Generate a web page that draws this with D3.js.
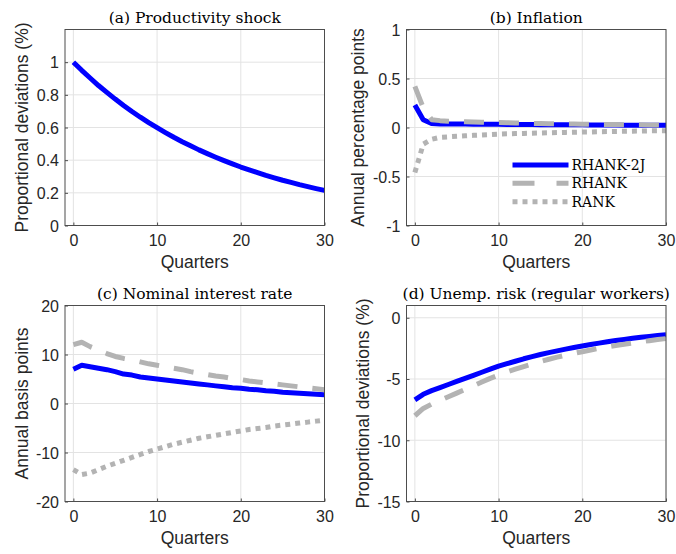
<!DOCTYPE html>
<html>
<head>
<meta charset="utf-8">
<script src="https://cdn.jsdelivr.net/npm/d3@7"></script>
<style>
  html, body { margin: 0; padding: 0; background: #fff; }
  svg { display: block; }
  .tick-label { font-family: "Liberation Sans", Arial, sans-serif; font-size: 16px; fill: #262626; }
  .axis-label { font-family: "Liberation Sans", Arial, sans-serif; font-size: 17.5px; fill: #262626; }
  .title { font-family: "DejaVu Serif", serif; font-size: 15.5px; fill: #000; }
  .legend-text { font-family: "DejaVu Serif", serif; font-size: 14px; fill: #000; }
</style>
</head>
<body>
<svg id="chart" width="676" height="554"></svg>
<script>
// Impulse responses to a productivity shock, quarters 0..30
const quarters = [0,1,2,3,4,5,6,7,8,9,10,11,12,13,14,15,16,17,18,19,20,21,22,23,24,25,26,27,28,29,30];
const xTicks = [0, 10, 20, 30];

// (a) Productivity shock
const productivity = [1.000,0.950,0.903,0.857,0.815,0.774,0.735,0.698,0.663,0.630,0.599,0.569,0.540,0.513,0.488,0.463,0.440,0.418,0.397,0.377,0.358,0.341,0.324,0.307,0.292,0.277,0.264,0.250,0.238,0.226,0.215];

// (b) Inflation, annual percentage points
const inflRHANK2J = [0.23,0.08,0.04,0.035,0.035,0.035,0.035,0.034,0.033,0.032,0.032,0.031,0.031,0.030,0.030,0.029,0.029,0.028,0.028,0.027,0.027,0.026,0.026,0.025,0.025,0.024,0.024,0.023,0.023,0.022,0.022];
const inflRHANK = [0.42,0.20,0.08,0.07,0.065,0.062,0.059,0.056,0.054,0.052,0.050,0.048,0.046,0.044,0.042,0.040,0.039,0.038,0.036,0.035,0.034,0.033,0.032,0.031,0.030,0.029,0.028,0.027,0.026,0.025,0.024];
const inflRANK = [-0.46,-0.17,-0.12,-0.10,-0.095,-0.09,-0.085,-0.08,-0.076,-0.072,-0.068,-0.065,-0.062,-0.060,-0.058,-0.056,-0.054,-0.052,-0.050,-0.048,-0.046,-0.045,-0.043,-0.042,-0.040,-0.039,-0.037,-0.036,-0.034,-0.033,-0.032];

// (c) Nominal interest rate, annual basis points
const rateRHANK2J = [7.0,7.8,7.5,7.2,6.9,6.5,6.0,5.8,5.4,5.2,5.0,4.8,4.6,4.4,4.2,4.0,3.8,3.6,3.4,3.2,3.1,2.9,2.8,2.6,2.5,2.3,2.2,2.1,2.0,1.9,1.8];
const rateRHANK = [12.0,12.5,11.6,10.9,10.2,9.6,9.2,8.9,8.5,8.1,7.8,7.5,7.2,6.9,6.5,6.2,5.9,5.6,5.4,5.1,4.9,4.6,4.4,4.2,4.0,3.8,3.6,3.4,3.2,3.0,2.8];
const rateRANK = [-13.5,-14.5,-14.2,-13.5,-12.8,-12.2,-11.6,-11.0,-10.4,-9.8,-9.3,-8.8,-8.3,-7.9,-7.5,-7.1,-6.8,-6.5,-6.2,-5.9,-5.6,-5.3,-5.1,-4.9,-4.6,-4.4,-4.2,-4.0,-3.8,-3.6,-3.4];

// (d) Unemployment risk of regular workers, proportional deviations (%)
const unempRHANK2J = [-6.7,-6.25,-5.95,-5.7,-5.45,-5.2,-4.95,-4.7,-4.45,-4.2,-3.95,-3.75,-3.55,-3.35,-3.17,-3.0,-2.85,-2.7,-2.56,-2.43,-2.3,-2.18,-2.07,-1.96,-1.86,-1.77,-1.68,-1.6,-1.52,-1.45,-1.38];
const unempRHANK = [-8.0,-7.4,-7.05,-6.75,-6.45,-6.15,-5.85,-5.55,-5.25,-4.95,-4.68,-4.43,-4.2,-3.98,-3.77,-3.57,-3.39,-3.22,-3.06,-2.91,-2.77,-2.63,-2.5,-2.38,-2.27,-2.16,-2.06,-1.96,-1.87,-1.78,-1.7];

const modelNames = ["RHANK-2J", "RHANK", "RANK"];

// Line styles per model
const styles = {
  "RHANK-2J": { color: "#0000ff", width: 5, dash: null },
  "RHANK":    { color: "#b3b3b3", width: 5, dash: "20,15" },
  "RANK":     { color: "#b3b3b3", width: 5, dash: "5,5" }
};

const panels = [
  { title: "(a) Productivity shock", ylabel: "Proportional deviations (%)",
    left: 65, right: 324.5, top: 29.5, bottom: 225.5, ylabX: 27.5,
    yDomain: [0, 1.2], yTicks: [0, 0.2, 0.4, 0.6, 0.8, 1],
    series: [{ name: "RHANK-2J", values: productivity }] },
  { title: "(b) Inflation", ylabel: "Annual percentage points",
    left: 406.5, right: 666, top: 29.5, bottom: 225.5, ylabX: 363.5,
    yDomain: [-1, 1], yTicks: [-1, -0.5, 0, 0.5, 1], legend: true,
    series: [{ name: "RHANK-2J", values: inflRHANK2J },
             { name: "RHANK", values: inflRHANK },
             { name: "RANK", values: inflRANK }] },
  { title: "(c) Nominal interest rate", ylabel: "Annual basis points",
    left: 65, right: 324.5, top: 305.5, bottom: 501.5, ylabX: 27.5,
    yDomain: [-20, 20], yTicks: [-20, -10, 0, 10, 20],
    series: [{ name: "RHANK-2J", values: rateRHANK2J },
             { name: "RHANK", values: rateRHANK },
             { name: "RANK", values: rateRANK }] },
  { title: "(d) Unemp. risk (regular workers)", ylabel: "Proportional deviations (%)",
    left: 406.5, right: 666, top: 305.5, bottom: 501.5, ylabX: 368.5,
    yDomain: [-15, 1], yTicks: [-15, -10, -5, 0],
    series: [{ name: "RHANK-2J", values: unempRHANK2J },
             { name: "RHANK", values: unempRHANK }] }
];

const svg = d3.select("#chart");
const fmt = v => String(v);

panels.forEach((p, i) => {
  const x = d3.scaleLinear().domain([-1, 30]).range([p.left, p.right]);
  const y = d3.scaleLinear().domain(p.yDomain).range([p.bottom, p.top]);
  const g = svg.append("g");

  // grid
  g.selectAll(".gx").data(xTicks).enter().append("line")
    .attr("x1", d => x(d)).attr("x2", d => x(d))
    .attr("y1", p.top).attr("y2", p.bottom)
    .attr("stroke", "#e3e3e3").attr("stroke-width", 1);
  g.selectAll(".gy").data(p.yTicks).enter().append("line")
    .attr("x1", p.left).attr("x2", p.right)
    .attr("y1", d => y(d)).attr("y2", d => y(d))
    .attr("stroke", "#e3e3e3").attr("stroke-width", 1);

  // series
  const clipId = "clip" + i;
  g.append("clipPath").attr("id", clipId).append("rect")
    .attr("x", p.left).attr("y", p.top)
    .attr("width", p.right - p.left).attr("height", p.bottom - p.top);
  const line = d3.line().x((d, k) => x(quarters[k])).y(d => y(d));
  p.series.forEach(s => {
    const st = styles[s.name];
    g.append("path")
      .attr("clip-path", `url(#${clipId})`)
      .attr("d", line(s.values))
      .attr("fill", "none")
      .attr("stroke", st.color)
      .attr("stroke-width", st.width)
      .attr("stroke-linejoin", "round")
      .attr("stroke-dasharray", st.dash);
  });

  // axes box
  g.append("rect")
    .attr("x", p.left).attr("y", p.top)
    .attr("width", p.right - p.left).attr("height", p.bottom - p.top)
    .attr("fill", "none").attr("stroke", "#4d4d4d").attr("stroke-width", 1);

  // x axis (ticks inward)
  const xAxis = d3.axisBottom(x).tickValues(xTicks).tickSizeInner(-3).tickSizeOuter(0).tickPadding(10).tickFormat(fmt);
  const gx = g.append("g").attr("transform", `translate(0,${p.bottom})`).call(xAxis);
  gx.select(".domain").remove();
  gx.selectAll(".tick line").attr("stroke", "#4d4d4d");
  gx.selectAll(".tick text").attr("class", "tick-label").attr("font-size", null).attr("font-family", null)
    .attr("dy", "0.72em").attr("y", 9);

  // y axis
  const yAxis = d3.axisLeft(y).tickValues(p.yTicks).tickSizeInner(-3).tickSizeOuter(0).tickPadding(8).tickFormat(fmt);
  const gy = g.append("g").attr("transform", `translate(${p.left},0)`).call(yAxis);
  gy.select(".domain").remove();
  gy.selectAll(".tick line").attr("stroke", "#4d4d4d");
  gy.selectAll(".tick text").attr("class", "tick-label").attr("font-size", null).attr("font-family", null)
    .attr("x", -6).attr("dy", "0.36em");

  // title
  g.append("text").attr("class", "title")
    .attr("x", (p.left + p.right) / 2).attr("y", p.top - 7)
    .attr("text-anchor", "middle").text(p.title);

  // axis labels
  g.append("text").attr("class", "axis-label")
    .attr("x", (p.left + p.right) / 2).attr("y", p.bottom + 42)
    .attr("text-anchor", "middle").text("Quarters");
  g.append("text").attr("class", "axis-label")
    .attr("transform", `translate(${p.ylabX},${(p.top + p.bottom) / 2}) rotate(-90)`)
    .attr("text-anchor", "middle").text(p.ylabel);

  // legend
  if (p.legend) {
    const lx0 = 512.5, lx1 = 568.5, rows = [165, 183.3, 201.7];
    modelNames.forEach((name, k) => {
      const st = styles[name];
      g.append("line")
        .attr("x1", lx0).attr("x2", lx1).attr("y1", rows[k]).attr("y2", rows[k])
        .attr("stroke", st.color).attr("stroke-width", st.width)
        .attr("stroke-dasharray", name === "RHANK" ? "22,22" : st.dash);
      g.append("text").attr("class", "legend-text")
        .attr("x", lx1 + 3).attr("y", rows[k]).attr("dy", "0.36em").text(name);
    });
  }
});
</script>
</body>
</html>
